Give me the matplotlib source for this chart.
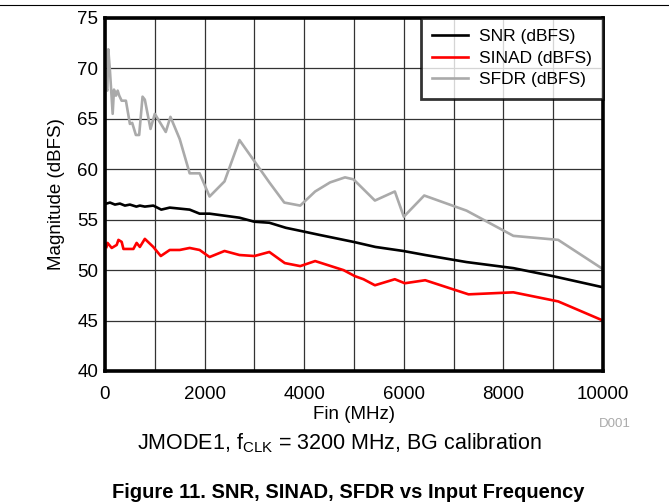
import matplotlib
matplotlib.use("Agg")
import matplotlib.pyplot as plt
from matplotlib.lines import Line2D
from matplotlib.ticker import MultipleLocator

plt.rcParams['font.family'] = ['Liberation Sans', 'DejaVu Sans']

snr_f = [30, 100, 200, 300, 400, 500, 630, 700, 800, 970, 1130, 1300, 1500, 1700, 1900, 2100,
         2400, 2700, 3000, 3300, 3630, 3920, 4300, 4990, 5430, 5990, 6430, 7260, 8200, 9000, 10000]
snr_v = [56.6, 56.7, 56.5, 56.6, 56.4, 56.5, 56.3, 56.4, 56.3, 56.4, 56.0, 56.2, 56.1, 56.0, 55.6, 55.6,
         55.4, 55.2, 54.8, 54.7, 54.2, 53.9, 53.5, 52.8, 52.3, 51.9, 51.5, 50.8, 50.2, 49.4, 48.3]

sinad_f = [30, 50, 135, 235, 270, 335, 370, 570, 635, 700, 800, 970, 1120, 1300, 1500, 1700, 1900,
           2100, 2400, 2700, 3000, 3300, 3610, 3920, 4220, 4790, 5020, 5190, 5420, 5820, 6020,
           6430, 7300, 8200, 9100, 10000]
sinad_v = [52.3, 52.7, 52.2, 52.5, 53.0, 52.8, 52.1, 52.1, 52.7, 52.3, 53.1, 52.3, 51.4, 52.0, 52.0,
           52.2, 52.0, 51.3, 51.9, 51.5, 51.4, 51.8, 50.7, 50.4, 50.9, 50.0, 49.4, 49.1, 48.5, 49.1, 48.7,
           49.0, 47.6, 47.8, 46.9, 45.0]

sfdr_f = [30, 46, 66, 100, 154, 180, 220, 254, 286, 334, 420, 500, 546, 620, 686, 754, 800, 914,
          1000, 1220, 1314, 1500, 1700, 1900, 2100, 2400, 2700, 3000, 3300, 3600, 3920, 4220, 4520,
          4820, 4990, 5420, 5820, 6000, 6410, 7260, 8200, 9100, 10000]
sfdr_v = [68.0, 67.8, 71.9, 69.7, 65.5, 67.9, 67.3, 67.8, 67.3, 66.8, 66.8, 64.5, 64.6, 63.4, 63.4,
          67.2, 66.9, 64.0, 65.5, 63.7, 65.2, 63.0, 59.6, 59.6, 57.3, 58.8, 62.9, 60.8, 58.7, 56.7,
          56.4, 57.8, 58.7, 59.2, 59.0, 56.9, 57.8, 55.3, 57.4, 55.9, 53.4, 53.0, 50.1]

labels = ['SNR (dBFS)', 'SINAD (dBFS)', 'SFDR (dBFS)']
colors = ['black', '#ff0000', '#aaaaaa']

fig = plt.figure(figsize=(6.69, 5.03), dpi=100)
ax = fig.add_axes([105/669, 1-371/503, (603-105)/669, (371-18)/503])

ax.plot(snr_f, snr_v, color=colors[0], lw=1.9, label=labels[0], zorder=3)
ax.plot(sinad_f, sinad_v, color=colors[1], lw=1.9, label=labels[1], zorder=3)
ax.plot(sfdr_f, sfdr_v, color=colors[2], lw=1.9, label=labels[2], zorder=3)

ax.set_xlim(0, 10000)
ax.set_ylim(40, 75)
ax.xaxis.set_major_locator(MultipleLocator(2000))
ax.xaxis.set_minor_locator(MultipleLocator(1000))
ax.yaxis.set_major_locator(MultipleLocator(5))
ax.grid(True, which='both', color='#333333', lw=0.9)
ax.tick_params(which='both', direction='in', length=0, labelsize=13.5)
ax.tick_params(axis='x', pad=11)
ax.tick_params(axis='y', pad=5)
for s in ax.spines.values():
    s.set_linewidth(2.6)
    s.set_zorder(4)

ax.set_xlabel('Fin (MHz)', fontsize=13.5, labelpad=2)
ax.set_ylabel('Magnitude (dBFS)', fontsize=13.5, labelpad=9)

leg = ax.legend(loc='upper right', fontsize=12.5, frameon=True,
                fancybox=False, borderaxespad=0, handlelength=2.1, borderpad=0.65,
                labelspacing=0.36, handletextpad=0.6)
leg.get_frame().set_edgecolor('black')
leg.get_frame().set_linewidth(2)
leg.set_zorder(5)

fig.text(615/669, 1-424/503, 'D001', color='#aaaaaa', fontsize=9.5, ha='center', va='center')
fig.text(340/669, 1-443/503, r'JMODE1, f$_{\mathregular{CLK}}$ = 3200 MHz, BG calibration',
         fontsize=15.5, ha='center', va='center')
fig.text(348/669, 1-492/503, 'Figure 11. SNR, SINAD, SFDR vs Input Frequency',
         fontsize=14.5, fontweight='bold', ha='center', va='center')
fig.add_artist(Line2D([0, 1], [1-5/503, 1-5/503], color='black', lw=0.8, transform=fig.transFigure))

fig.savefig('out.png', dpi=100)
